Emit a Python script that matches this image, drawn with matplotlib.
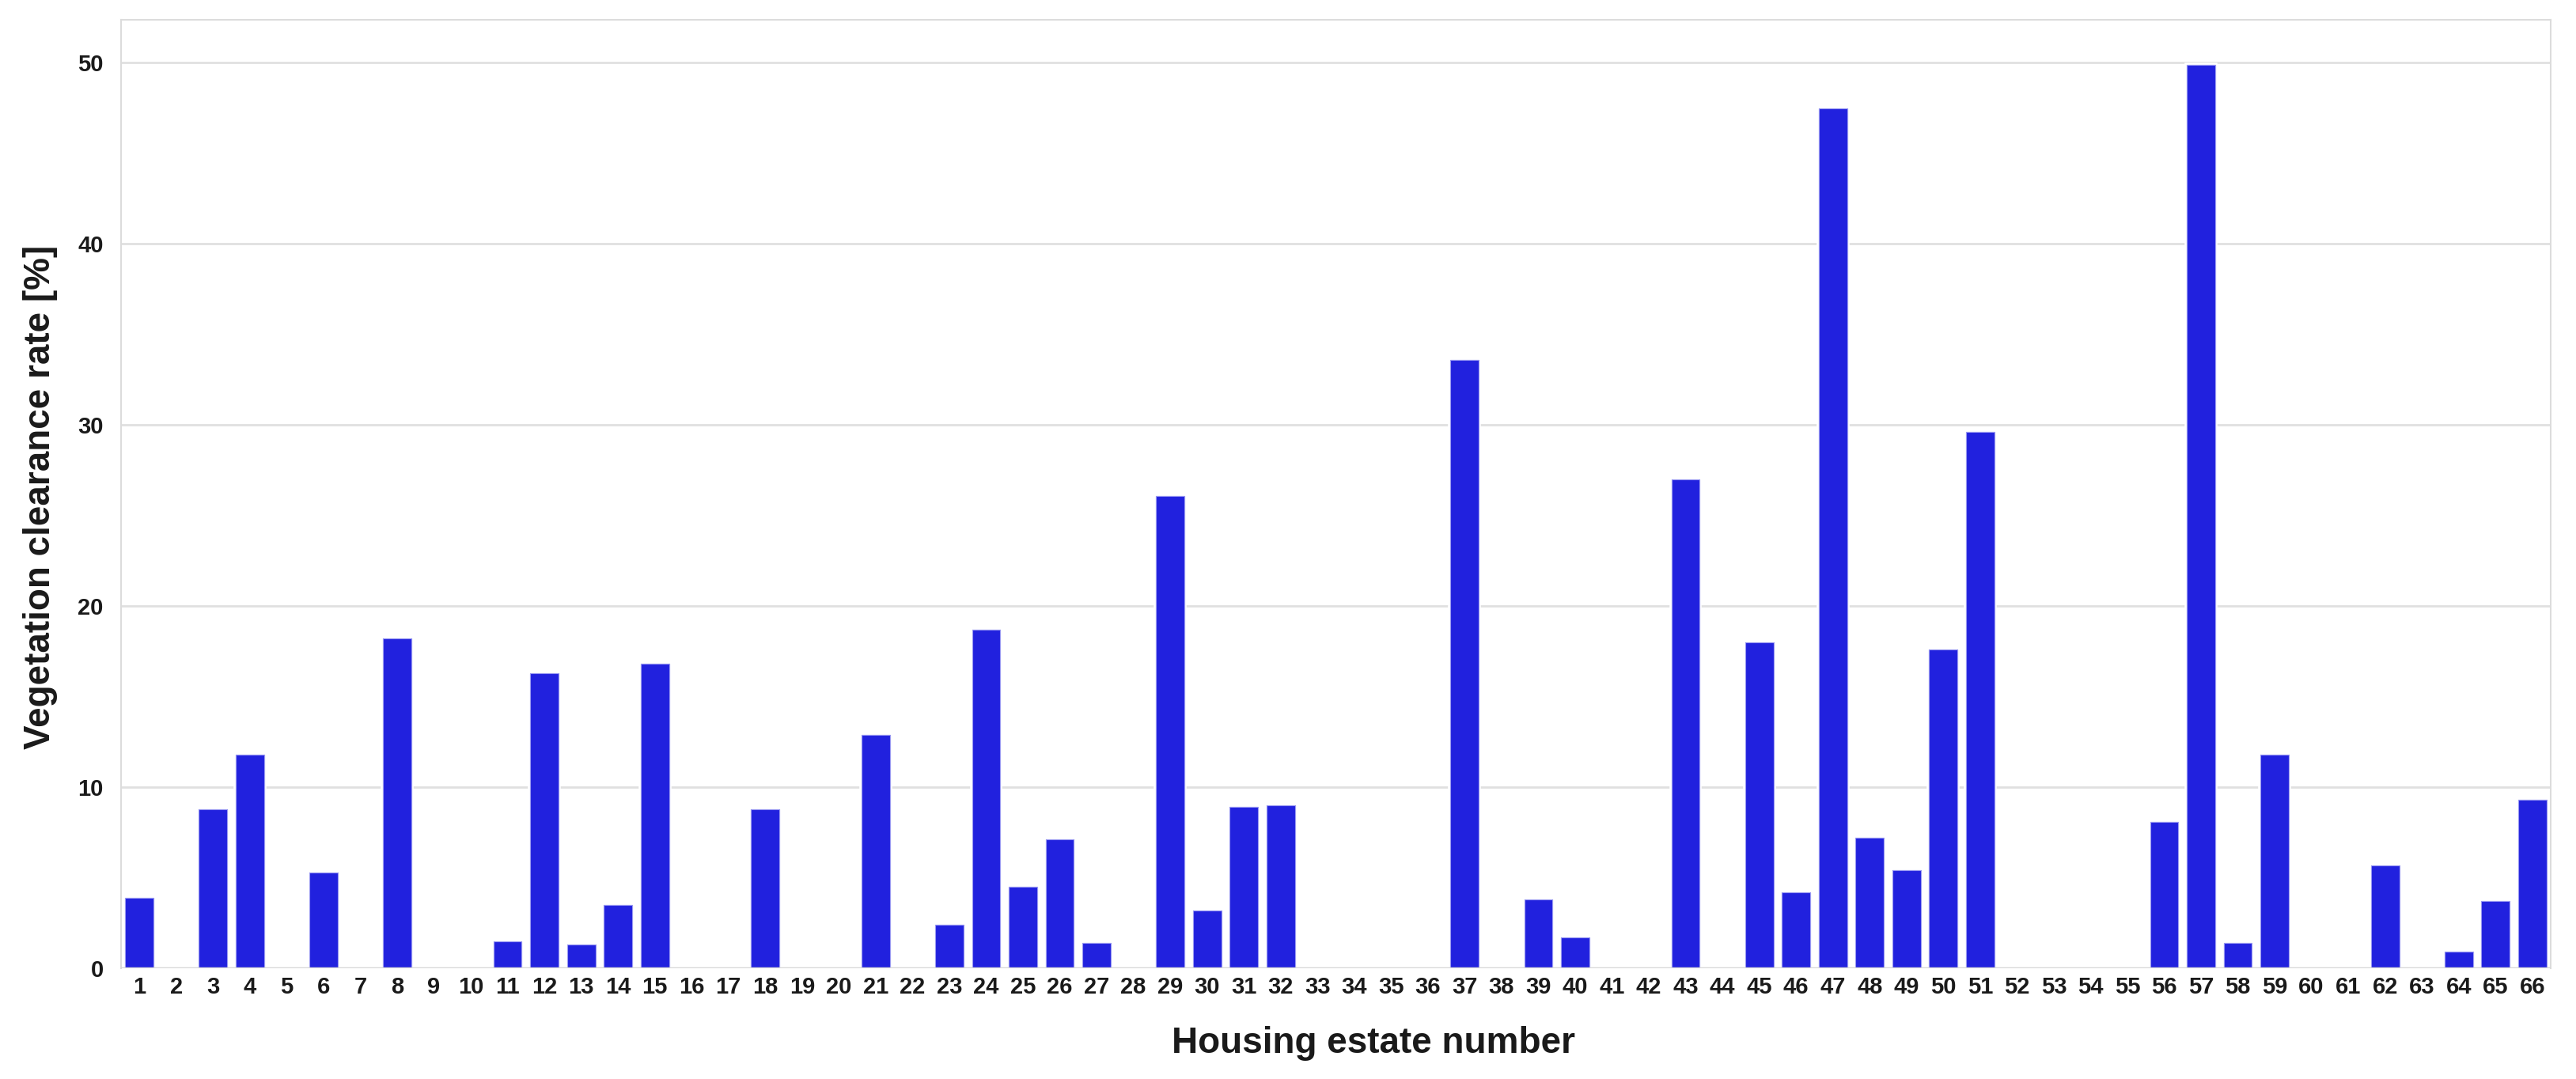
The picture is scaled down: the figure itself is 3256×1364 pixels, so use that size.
import matplotlib
matplotlib.use("Agg")
import matplotlib.pyplot as plt
import matplotlib.patheffects as pe

plt.rcParams["font.family"] = ["Liberation Sans", "DejaVu Sans"]

# ---- data ----
estates = list(range(1, 67))
clearance = [
    3.9, 0, 8.8, 11.8, 0, 5.3, 0, 18.2, 0, 0,
    1.5, 16.3, 1.3, 3.5, 16.8, 0, 0, 8.8, 0, 0,
    12.9, 0, 2.4, 18.7, 4.5, 7.1, 1.4, 0, 26.1, 3.2,
    8.9, 9.0, 0, 0, 0, 0, 33.6, 0, 3.8, 1.7,
    0, 0, 27.0, 0, 18.0, 4.2, 47.5, 7.2, 5.4, 17.6,
    29.6, 0, 0, 0, 0, 8.1, 49.9, 1.4, 11.8, 0,
    0, 5.7, 0, 0.9, 3.7, 9.3,
]
y_ticks = [0, 10, 20, 30, 40, 50]

W, H = 3256, 1364
fig = plt.figure(figsize=(W / 100, H / 100), dpi=100)
ax = fig.add_axes([153 / W, 1 - 1224 / H, (3224 - 153) / W, (1224 - 24.5) / H])

bars = ax.bar(estates, clearance, width=0.77, color="#2121de",
              edgecolor="#9a9af2", linewidth=0.8, zorder=3)
for b in bars:
    b.set_path_effects([pe.withStroke(linewidth=4, foreground="white"), pe.Normal()])

ax.set_xlim(0.5, 66.5)
ax.set_ylim(0, 52.4)
ax.set_yticks(y_ticks)
ax.set_xticks(estates)
ax.set_xticklabels([str(e) for e in estates])

ax.yaxis.grid(True, color="#e0e0e0", lw=2.0, zorder=0)
ax.xaxis.grid(False)
ax.set_axisbelow(True)
ax.axhline(0, color="#d6d6d6", lw=2.5, zorder=4)

for side in ["left", "right", "top"]:
    ax.spines[side].set_color("#dcdcdc")
    ax.spines[side].set_linewidth(1.5)
ax.spines["bottom"].set_visible(False)

ax.tick_params(axis="y", length=0, pad=16, labelsize=21, labelcolor="#1a1a1a")
ax.tick_params(axis="x", length=0, pad=7, labelsize=21, labelcolor="#1a1a1a")
for lbl in ax.get_xticklabels() + ax.get_yticklabels():
    lbl.set_fontweight("bold")

fig.text(51 / W, 1 - 628 / H, "Vegetation clearance rate [%]", rotation=90,
         ha="center", va="center", fontsize=33, fontweight="bold", color="#1a1a1a")
fig.text(1736 / W, 1 - 1319 / H, "Housing estate number",
         ha="center", va="center", fontsize=33, fontweight="bold", color="#1a1a1a")

fig.savefig("out.png", dpi=100, facecolor="white")
